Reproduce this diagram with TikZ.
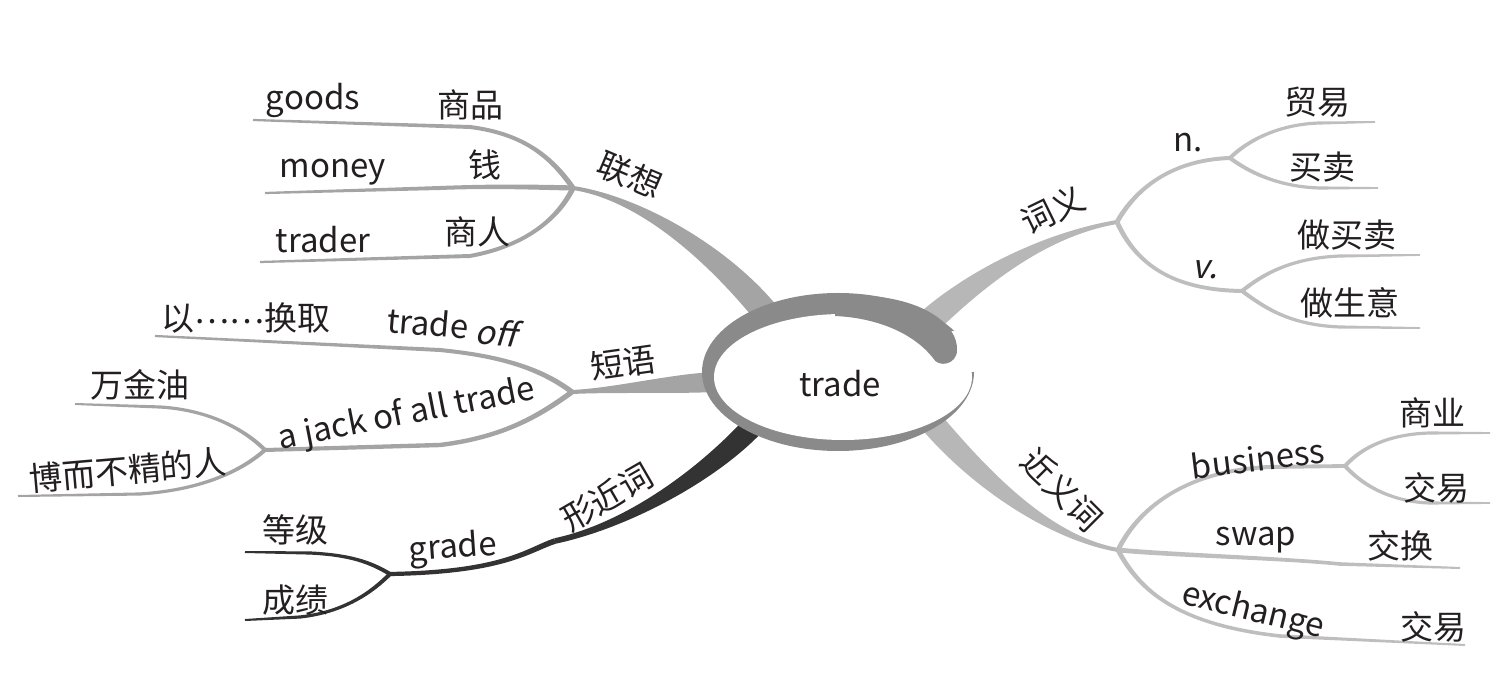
\documentclass[tikz,border=0pt]{standalone}
\usepackage{fontspec}
\setmainfont{Noto Sans CJK SC}
\newfontfamily\slfont[FakeSlant=0.22]{Noto Sans CJK SC}
\usetikzlibrary{calc}
\definecolor{lgray}{HTML}{A4A4A4}
\definecolor{rgray}{HTML}{BEBEBE}
\definecolor{rtrunk}{HTML}{B7B7B7}
\definecolor{ringc}{HTML}{8A8A8A}
\definecolor{darkc}{HTML}{333333}
\definecolor{txt}{HTML}{231F20}
% tapered bezier: start, c1, c2, end, half-width start, half-width end, colour
\newcommand\taper[7]{%
 \fill[#7] ($(#1)!#5!90:(#2)$) .. controls ($(#2)!#5!-90:(#1)$) and ($(#3)!#6!90:(#4)$) .. ($(#4)!#6!-90:(#3)$)
 -- ($(#4)!#6!90:(#3)$) .. controls ($(#3)!#6!-90:(#4)$) and ($(#2)!#5!90:(#1)$) .. ($(#1)!#5!-90:(#2)$) -- cycle;}
% tapered straight segment
\newcommand\tseg[5]{%
 \fill[#5] ($(#1)!#3!90:(#2)$) -- ($(#2)!#4!-90:(#1)$) -- ($(#2)!#4!90:(#1)$) -- ($(#1)!#3!-90:(#2)$) -- cycle;}
\begin{document}
\begin{tikzpicture}[x=0.5pt,y=-0.5pt,
  lab/.style={inner sep=0pt, text=txt, font=\fontsize{16.5}{18}\selectfont}]
\useasboundingbox (0,0) rectangle (1509,694);
% ---------- coordinates ----------
\coordinate (J1) at (573,188);
\coordinate (a0) at (770,318); \coordinate (a1) at (720,255); \coordinate (a2) at (640,198);
\coordinate (g1) at (552,158); \coordinate (g2) at (525,134); \coordinate (gB) at (470,127); \coordinate (gE) at (253,120);
\coordinate (m1) at (530,187); \coordinate (m2) at (490,186); \coordinate (mB) at (440,188); \coordinate (mE) at (265,193);
\coordinate (t1) at (560,215); \coordinate (t2) at (530,245); \coordinate (tB) at (470,256); \coordinate (tE) at (260,262);
\coordinate (J2) at (572,392);
\coordinate (b0) at (715,382); \coordinate (b1) at (670,384); \coordinate (b2) at (615,390);
\coordinate (o1) at (540,368); \coordinate (o2) at (500,356); \coordinate (oB) at (440,350); \coordinate (oE) at (155,336);
\coordinate (k1) at (540,415); \coordinate (k2) at (505,437); \coordinate (kB) at (440,445);
\coordinate (J3) at (265,450);
\coordinate (w1) at (245,430); \coordinate (w2) at (210,410); \coordinate (wB) at (160,407); \coordinate (wE) at (75,404);
\coordinate (h1) at (240,472); \coordinate (h2) at (200,490); \coordinate (hB) at (140,494); \coordinate (hE) at (18,496);
\coordinate (J4) at (390,574);
\coordinate (c0) at (760,418); \coordinate (c1) at (715,470); \coordinate (c2) at (630,525); \coordinate (cM) at (555,541);
\coordinate (c3) at (528,550); \coordinate (c4) at (505,572);
\coordinate (d1) at (370,562); \coordinate (d2) at (350,555); \coordinate (dB) at (310,553); \coordinate (dE) at (245,552);
\coordinate (e1) at (372,592); \coordinate (e2) at (345,612); \coordinate (eB) at (300,617); \coordinate (eE) at (245,620);
\coordinate (J5) at (1117,222);
\coordinate (r0) at (915,335); \coordinate (r1) at (965,285); \coordinate (r2) at (1040,235);
\coordinate (n1) at (1135,190); \coordinate (n2) at (1170,160); \coordinate (J6) at (1230,158);
\coordinate (p1) at (1248,140); \coordinate (p2) at (1280,124); \coordinate (pB) at (1320,123); \coordinate (pE) at (1375,122);
\coordinate (q1) at (1250,173); \coordinate (q2) at (1280,187); \coordinate (qB) at (1320,188); \coordinate (qE) at (1378,188);
\coordinate (v1) at (1135,262); \coordinate (v2) at (1170,290); \coordinate (J7) at (1242,291);
\coordinate (x1) at (1262,275); \coordinate (x2) at (1290,258); \coordinate (xB) at (1340,256); \coordinate (xE) at (1420,255);
\coordinate (y1) at (1265,308); \coordinate (y2) at (1290,325); \coordinate (yB) at (1340,327); \coordinate (yE) at (1420,328);
\coordinate (J8) at (1118,550);
\coordinate (s0) at (928,418); \coordinate (s1) at (980,480); \coordinate (s2) at (1050,538);
\coordinate (u1) at (1140,505); \coordinate (u2) at (1190,470); \coordinate (uB) at (1270,467); \coordinate (J9) at (1345,466);
\coordinate (z1) at (1362,447); \coordinate (z2) at (1390,434); \coordinate (zB) at (1430,433); \coordinate (zE) at (1490,433);
\coordinate (i1) at (1365,488); \coordinate (i2) at (1395,502); \coordinate (iB) at (1430,503); \coordinate (iE) at (1490,503);
\coordinate (f1) at (1170,555); \coordinate (f2) at (1280,558); \coordinate (fB) at (1340,564); \coordinate (fE) at (1460,568);
\coordinate (l1) at (1140,592); \coordinate (l2) at (1180,625); \coordinate (lB) at (1280,636); \coordinate (lE) at (1465,645);
% ---------- branches ----------
% 联想
\taper{a0}{a1}{a2}{J1}{6.5pt}{1pt}{lgray}
\taper{J1}{g1}{g2}{gB}{1.3pt}{1pt}{lgray} \tseg{gB}{gE}{1pt}{0.55pt}{lgray}
\taper{J1}{m1}{m2}{mB}{1.3pt}{1pt}{lgray} \tseg{mB}{mE}{1pt}{0.55pt}{lgray}
\taper{J1}{t1}{t2}{tB}{1.3pt}{1pt}{lgray} \tseg{tB}{tE}{1pt}{0.55pt}{lgray}
% 短语
\taper{b0}{b1}{b2}{J2}{5pt}{1pt}{lgray}
\taper{J2}{o1}{o2}{oB}{1.3pt}{1pt}{lgray} \tseg{oB}{oE}{1pt}{0.55pt}{lgray}
\taper{J2}{k1}{k2}{kB}{1.3pt}{1.1pt}{lgray} \tseg{kB}{J3}{1.1pt}{1pt}{lgray}
\taper{J3}{w1}{w2}{wB}{1pt}{0.8pt}{lgray} \tseg{wB}{wE}{0.8pt}{0.5pt}{lgray}
\taper{J3}{h1}{h2}{hB}{1pt}{0.8pt}{lgray} \tseg{hB}{hE}{0.8pt}{0.5pt}{lgray}
% 形近词
\taper{c0}{c1}{c2}{cM}{5.5pt}{1.4pt}{darkc}
\taper{cM}{c3}{c4}{J4}{1.4pt}{1.05pt}{darkc}
\taper{J4}{d1}{d2}{dB}{1pt}{0.8pt}{darkc} \tseg{dB}{dE}{0.8pt}{0.5pt}{darkc}
\taper{J4}{e1}{e2}{eB}{1pt}{0.8pt}{darkc} \tseg{eB}{eE}{0.8pt}{0.5pt}{darkc}
% 词义
\taper{r0}{r1}{r2}{J5}{6.5pt}{1pt}{rtrunk}
\taper{J5}{n1}{n2}{J6}{1.2pt}{1pt}{rgray}
\taper{J6}{p1}{p2}{pB}{1pt}{0.8pt}{rgray} \tseg{pB}{pE}{0.8pt}{0.45pt}{rgray}
\taper{J6}{q1}{q2}{qB}{1pt}{0.8pt}{rgray} \tseg{qB}{qE}{0.8pt}{0.45pt}{rgray}
\taper{J5}{v1}{v2}{J7}{1.2pt}{1pt}{rgray}
\taper{J7}{x1}{x2}{xB}{1pt}{0.8pt}{rgray} \tseg{xB}{xE}{0.8pt}{0.45pt}{rgray}
\taper{J7}{y1}{y2}{yB}{1pt}{0.8pt}{rgray} \tseg{yB}{yE}{0.8pt}{0.45pt}{rgray}
% 近义词
\taper{s0}{s1}{s2}{J8}{6pt}{1pt}{rtrunk}
\taper{J8}{u1}{u2}{uB}{1.2pt}{1pt}{rgray} \tseg{uB}{J9}{1pt}{0.95pt}{rgray}
\taper{J9}{z1}{z2}{zB}{1pt}{0.8pt}{rgray} \tseg{zB}{zE}{0.8pt}{0.45pt}{rgray}
\taper{J9}{i1}{i2}{iB}{1pt}{0.8pt}{rgray} \tseg{iB}{iE}{0.8pt}{0.45pt}{rgray}
\taper{J8}{f1}{f2}{fB}{1.2pt}{0.9pt}{rgray} \tseg{fB}{fE}{0.9pt}{0.5pt}{rgray}
\taper{J8}{l1}{l2}{lB}{1.2pt}{0.9pt}{rgray} \tseg{lB}{lE}{0.9pt}{0.5pt}{rgray}
% ---------- central ellipse ----------
\fill[ringc] (838,372) ellipse [x radius=68pt, y radius=39.5pt];
\fill[white] (843,377) ellipse [x radius=64.5pt, y radius=31.5pt];
\fill[white] (950,331) rectangle (985,372);
\fill[ringc] (835,298) -- (870,296) .. controls (925,300) and (958,325) .. (957,350)
  .. controls (957,365) and (938,368) .. (933,358)
  .. controls (915,335) and (880,318) .. (835,316) -- cycle;
\node[lab] (centre) at (840,384) {trade};
% ---------- labels ----------
\node[lab, rotate=-23] (Llx) at (630,175) {联想};
\node[lab] (Lgoods) at (313,100) {goods};
\node[lab] (Lsp) at (470,105) {商品};
\node[lab] (Lmoney) at (333,172) {money};
\node[lab] (Lqian) at (485,165) {钱};
\node[lab] (Ltrader) at (323,240) {trader};
\node[lab] (Lsr) at (477,232) {商人};
\node[lab, rotate=8] (Ldy) at (623,363) {短语};
\node[lab] (Lyi) at (246,318) {以\raisebox{0.22em}{……}换取};
\node[lab, rotate=-5] (Ltoff) at (452,327) {trade \raisebox{-0.12em}{\slfont off}};
\node[lab, rotate=11] (Ljack) at (407,415) {a jack of all trade};
\node[lab] (Lwjy) at (140,385) {万金油};
\node[lab, rotate=5] (Lbo) at (128,470) {博而不精的人};
\node[lab, rotate=30] (Lxjc) at (607,497) {形近词};
\node[lab, rotate=4] (Lgrade) at (453,549) {grade};
\node[lab] (Ldj) at (295,530) {等级};
\node[lab] (Lcj) at (295,600) {成绩};
\node[lab, rotate=26] (Lcy) at (1053,210) {词义};
\node[lab] (Ln) at (1188,143) {n.};
\node[lab] (Lmy) at (1317,102) {贸易};
\node[lab] (Lmm) at (1322,167) {买卖};
\node[lab] (Lv) at (1205,270) {\slfont v.};
\node[lab] (Lzmm) at (1347,235) {做买卖};
\node[lab] (Lzsy) at (1350,303) {做生意};
\node[lab, rotate=-45] (Ljyc) at (1062,490) {近义词};
\node[lab, rotate=7] (Lbus) at (1258,458) {business};
\node[lab] (Lsy) at (1432,413) {商业};
\node[lab] (Ljy1) at (1436,488) {交易};
\node[lab] (Lswap) at (1256,540) {swap};
\node[lab] (Ljh) at (1400,546) {交换};
\node[lab, rotate=-14] (Lex) at (1253,612) {exchange};
\node[lab] (Ljy2) at (1433,627) {交易};
\end{tikzpicture}
\end{document}
